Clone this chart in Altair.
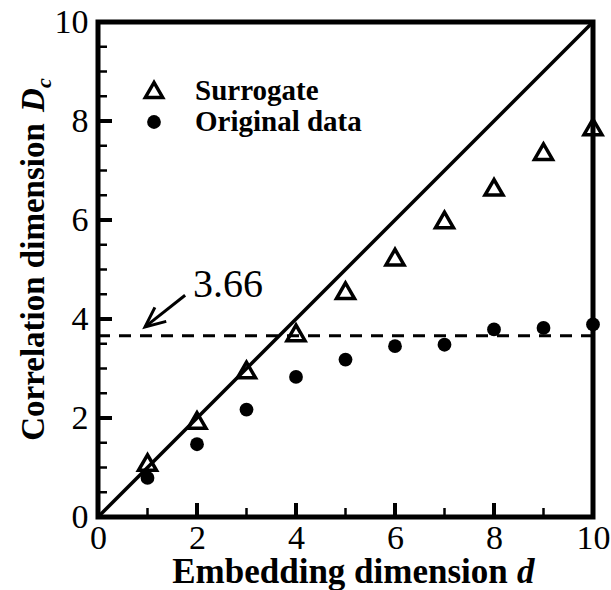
import altair as alt
import pandas as pd

# ---- data ----
d_values = [1, 2, 3, 4, 5, 6, 7, 8, 9, 10]
surrogate = [1.10, 1.95, 2.97, 3.72, 4.57, 5.25, 6.00, 6.66, 7.38, 7.88]
original = [0.79, 1.47, 2.17, 2.83, 3.18, 3.45, 3.48, 3.79, 3.82, 3.89]
saturation_value = 3.66
diag_x = [0, 10]
diag_y = [0, 10]

x_major = [0, 2, 4, 6, 8, 10]
x_minor = [1, 3, 5, 7, 9]
y_major = [0, 2, 4, 6, 8, 10]
y_minor = [0.5, 1, 1.5, 2.5, 3, 3.5, 4.5, 5, 5.5, 6.5, 7, 7.5, 8.5, 9, 9.5]

legend_labels = ["Surrogate", "Original data"]
annot_text = ["3.66"]
annot_text_pos = {"x": [1.92], "y": [4.44]}
arrow_tip = {"x": [0.95], "y": [3.84]}
arrow_tail = {"x": [1.76], "y": [4.48]}

x_title = "Embedding dimension"
x_title_var = "d"
y_title = "Correlation dimension"
y_title_var = "D"
y_title_sub = "c"

# ---- frames ----
df = pd.DataFrame({"d": d_values, "surrogate": surrogate, "original": original})
diag_df = pd.DataFrame({"x": diag_x, "y": diag_y})
hline_df = pd.DataFrame({"x": [0], "x2": [10], "y": [saturation_value]})
xmaj_df = pd.DataFrame({"v": x_major})
xmin_df = pd.DataFrame({"v": x_minor})
ymaj_df = pd.DataFrame({"v": y_major})
ymin_df = pd.DataFrame({"v": y_minor})
arrow_df = pd.DataFrame({"x": arrow_tip["x"], "y": arrow_tip["y"],
                         "x2": arrow_tail["x"], "y2": arrow_tail["y"]})
annot_df = pd.DataFrame({"t": annot_text, "x": annot_text_pos["x"], "y": annot_text_pos["y"]})

W = H = 495
SERIF = "Liberation Serif"
xs = alt.Scale(domain=[0, 10], nice=False, zero=False)
ys = alt.Scale(domain=[0, 10], nice=False, zero=False)

X = lambda f, **kw: alt.X(f, type="quantitative", scale=xs, **kw)
Y = lambda f, **kw: alt.Y(f, type="quantitative", scale=ys, **kw)

axis_common = dict(labelFont=SERIF, labelFontSize=34, labelColor="black",
                   ticks=False, domain=False, grid=False, title=None,
                   labelFlush=False, labelOverlap=False)

base_axes = alt.Chart(xmaj_df).mark_point(opacity=0).encode(
    x=X("v", axis=alt.Axis(values=x_major, labelPadding=4, **axis_common)),
    y=Y("v", axis=alt.Axis(values=y_major, labelPadding=10, **axis_common)),
)

diag = alt.Chart(diag_df).mark_line(color="black", strokeWidth=3.5).encode(
    x=X("x"), y=Y("y"))

hline = alt.Chart(hline_df).mark_rule(color="black", strokeWidth=3, strokeDash=[12, 9]).encode(
    x=X("x"), x2="x2", y=Y("y"))

tri = alt.Chart(df).mark_point(shape="triangle-up", filled=False, stroke="black",
                               strokeWidth=3.5, size=324, opacity=1).encode(
    x=X("d"), y=Y("surrogate"))

dots = alt.Chart(df).mark_point(shape="circle", filled=True, fill="black",
                                size=190, opacity=1, strokeWidth=0).encode(
    x=X("d"), y=Y("original"))

# inward ticks
xmaj = alt.Chart(xmaj_df).mark_rule(color="black", strokeWidth=4).encode(
    x=X("v"), y=alt.value(H), y2=alt.value(H - 14))
xmin = alt.Chart(xmin_df).mark_rule(color="black", strokeWidth=2.5).encode(
    x=X("v"), y=alt.value(H), y2=alt.value(H - 9))
ymaj = alt.Chart(ymaj_df).mark_rule(color="black", strokeWidth=4).encode(
    y=Y("v"), x=alt.value(0), x2=alt.value(14))
ymin = alt.Chart(ymin_df).mark_rule(color="black", strokeWidth=2.5).encode(
    y=Y("v"), x=alt.value(0), x2=alt.value(9))

# annotation
annot = alt.Chart(annot_df).mark_text(font=SERIF, fontSize=40, align="left",
                                      baseline="alphabetic", color="black").encode(
    x=X("x"), y=Y("y"), text="t:N")
shaft = alt.Chart(arrow_df).mark_rule(color="black", strokeWidth=3).encode(
    x=X("x"), y=Y("y"), x2="x2", y2="y2")
head = alt.Chart(arrow_df).mark_point(shape="M -0.45 1 L 0 0 L 0.45 1", filled=False,
                                      stroke="black", strokeWidth=3, size=1600,
                                      angle=231, opacity=1).encode(
    x=X("x"), y=Y("y"))

# legend (manual)
leg_df0 = pd.DataFrame({"t": [legend_labels[0]]})
leg_df1 = pd.DataFrame({"t": [legend_labels[1]]})
leg_tri = alt.Chart(leg_df0).mark_point(shape="triangle-up", filled=False, stroke="black",
                                        strokeWidth=3.5, size=300, opacity=1).encode(
    x=alt.value(56), y=alt.value(68))
leg_dot = alt.Chart(leg_df1).mark_point(shape="circle", filled=True, fill="black",
                                        size=190, strokeWidth=0, opacity=1).encode(
    x=alt.value(56), y=alt.value(100))
leg_t0 = alt.Chart(leg_df0).mark_text(font=SERIF, fontSize=29, fontWeight="bold",
                                      align="left", baseline="alphabetic").encode(
    x=alt.value(97), y=alt.value(78), text="t:N")
leg_t1 = alt.Chart(leg_df1).mark_text(font=SERIF, fontSize=29, fontWeight="bold",
                                      align="left", baseline="alphabetic").encode(
    x=alt.value(97), y=alt.value(109), text="t:N")

# axis titles (manual, to allow italic variable names)
xt_df = pd.DataFrame({"t": [x_title]})
xv_df = pd.DataFrame({"t": [x_title_var]})
yt_df = pd.DataFrame({"t": [y_title]})
yv_df = pd.DataFrame({"t": [y_title_var]})
ys_df = pd.DataFrame({"t": [y_title_sub]})

xt = alt.Chart(xt_df).mark_text(font=SERIF, fontSize=35, fontWeight="bold",
                                align="center", baseline="alphabetic").encode(
    x=alt.value(242), y=alt.value(561), text="t:N")
xv = alt.Chart(xv_df).mark_text(font=SERIF, fontSize=35, fontWeight="bold", fontStyle="italic",
                                align="left", baseline="alphabetic").encode(
    x=alt.value(419), y=alt.value(561), text="t:N")
yt = alt.Chart(yt_df).mark_text(font=SERIF, fontSize=33, fontWeight="bold", angle=270,
                                align="center", baseline="alphabetic").encode(
    x=alt.value(-54), y=alt.value(260), text="t:N")
yv = alt.Chart(yv_df).mark_text(font=SERIF, fontSize=33, fontWeight="bold", fontStyle="italic",
                                angle=270, align="left", baseline="alphabetic").encode(
    x=alt.value(-54), y=alt.value(90), text="t:N")
ysub = alt.Chart(ys_df).mark_text(font=SERIF, fontSize=22, fontWeight="bold", fontStyle="italic",
                                  angle=270, align="left", baseline="alphabetic").encode(
    x=alt.value(-47), y=alt.value(66), text="t:N")

chart = alt.layer(
    base_axes, hline, diag, tri, dots, xmaj, xmin, ymaj, ymin,
    shaft, head, annot, leg_tri, leg_dot, leg_t0, leg_t1, xt, xv, yt, yv, ysub
).properties(
    width=W, height=H,
    background="white",
    autosize=alt.AutoSizeParams(type="none"),
    padding={"left": 98, "top": 22, "right": 18, "bottom": 73},
).configure_view(
    stroke="black", strokeWidth=5
)

chart.save("out.html", embed_options={"renderer": "svg", "actions": False})
